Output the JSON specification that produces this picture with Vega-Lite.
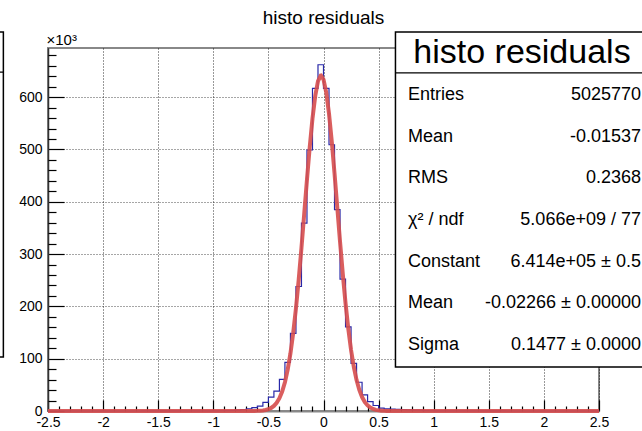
{
  "$schema": "https://vega.github.io/schema/vega-lite/v6.json",
  "width": 551,
  "height": 363,
  "autosize": {"type": "none"},
  "padding": {"left": 48, "top": 48, "right": 43, "bottom": 20},
  "background": "white",
  "title": {"text": "histo residuals", "fontSize": 19, "font": "Liberation Sans", "fontWeight": "normal", "color": "#000", "anchor": "middle", "frame": "group", "baseline": "alphabetic", "offset": -12},
  "config": {"view": {"stroke": "#888", "strokeWidth": 2}, "font": "Liberation Sans"},
  "datasets": {
    "hist": [
      {"x": -2.5, "count": 0}, {"x": -2.45, "count": 0}, {"x": -2.4, "count": 0}, {"x": -2.35, "count": 0}, {"x": -2.3, "count": 0},
      {"x": -2.25, "count": 0}, {"x": -2.2, "count": 0}, {"x": -2.15, "count": 0}, {"x": -2.1, "count": 0}, {"x": -2.05, "count": 0},
      {"x": -2.0, "count": 10}, {"x": -1.95, "count": 10}, {"x": -1.9, "count": 20}, {"x": -1.85, "count": 20}, {"x": -1.8, "count": 30},
      {"x": -1.75, "count": 30}, {"x": -1.7, "count": 40}, {"x": -1.65, "count": 50}, {"x": -1.6, "count": 60}, {"x": -1.55, "count": 70},
      {"x": -1.5, "count": 90}, {"x": -1.45, "count": 110}, {"x": -1.4, "count": 130}, {"x": -1.35, "count": 150}, {"x": -1.3, "count": 180},
      {"x": -1.25, "count": 210}, {"x": -1.2, "count": 250}, {"x": -1.15, "count": 290}, {"x": -1.1, "count": 330}, {"x": -1.05, "count": 370},
      {"x": -1.0, "count": 420}, {"x": -0.95, "count": 520}, {"x": -0.9, "count": 680}, {"x": -0.85, "count": 950}, {"x": -0.8, "count": 1800},
      {"x": -0.75, "count": 2800}, {"x": -0.7, "count": 4300}, {"x": -0.65, "count": 6500}, {"x": -0.6, "count": 9500}, {"x": -0.55, "count": 16500},
      {"x": -0.5, "count": 26500}, {"x": -0.45, "count": 38000}, {"x": -0.4, "count": 60500}, {"x": -0.35, "count": 93000}, {"x": -0.3, "count": 148500},
      {"x": -0.25, "count": 238000}, {"x": -0.2, "count": 359000}, {"x": -0.15, "count": 499000}, {"x": -0.1, "count": 617000}, {"x": -0.05, "count": 662000},
      {"x": 0.0, "count": 617000}, {"x": 0.05, "count": 509000}, {"x": 0.1, "count": 385000}, {"x": 0.15, "count": 252000}, {"x": 0.2, "count": 161000},
      {"x": 0.25, "count": 91000}, {"x": 0.3, "count": 55000}, {"x": 0.35, "count": 31000}, {"x": 0.4, "count": 18000}, {"x": 0.45, "count": 10500},
      {"x": 0.5, "count": 5500}, {"x": 0.55, "count": 4000}, {"x": 0.6, "count": 3400}, {"x": 0.65, "count": 3000}, {"x": 0.7, "count": 2600},
      {"x": 0.75, "count": 2200}, {"x": 0.8, "count": 1800}, {"x": 0.85, "count": 1500}, {"x": 0.9, "count": 600}, {"x": 0.95, "count": 450},
      {"x": 1.0, "count": 380}, {"x": 1.05, "count": 320}, {"x": 1.1, "count": 280}, {"x": 1.15, "count": 240}, {"x": 1.2, "count": 200},
      {"x": 1.25, "count": 170}, {"x": 1.3, "count": 140}, {"x": 1.35, "count": 120}, {"x": 1.4, "count": 100}, {"x": 1.45, "count": 80},
      {"x": 1.5, "count": 70}, {"x": 1.55, "count": 60}, {"x": 1.6, "count": 50}, {"x": 1.65, "count": 40}, {"x": 1.7, "count": 30},
      {"x": 1.75, "count": 25}, {"x": 1.8, "count": 20}, {"x": 1.85, "count": 15}, {"x": 1.9, "count": 10}, {"x": 1.95, "count": 10},
      {"x": 2.0, "count": 0}, {"x": 2.05, "count": 0}, {"x": 2.1, "count": 0}, {"x": 2.15, "count": 0}, {"x": 2.2, "count": 0},
      {"x": 2.25, "count": 0}, {"x": 2.3, "count": 0}, {"x": 2.35, "count": 0}, {"x": 2.4, "count": 0}, {"x": 2.45, "count": 0},
      {"x": 2.5, "count": 0}
    ],
    "fit": [
      {"x": -2.5, "y": 0}, {"x": -1.0, "y": 0}, {"x": -0.8, "y": 0.6}, {"x": -0.775, "y": 1.5}, {"x": -0.75, "y": 3.5},
      {"x": -0.725, "y": 7.9}, {"x": -0.7, "y": 17}, {"x": -0.675, "y": 37}, {"x": -0.65, "y": 78}, {"x": -0.625, "y": 157},
      {"x": -0.6, "y": 308}, {"x": -0.575, "y": 590}, {"x": -0.55, "y": 1094}, {"x": -0.525, "y": 1972}, {"x": -0.5, "y": 3457},
      {"x": -0.475, "y": 5894}, {"x": -0.45, "y": 9762}, {"x": -0.425, "y": 15697}, {"x": -0.4, "y": 24540}, {"x": -0.375, "y": 37285},
      {"x": -0.35, "y": 55027}, {"x": -0.325, "y": 78952}, {"x": -0.3, "y": 110038}, {"x": -0.275, "y": 149036}, {"x": -0.25, "y": 196185},
      {"x": -0.225, "y": 250948}, {"x": -0.2, "y": 311958}, {"x": -0.175, "y": 376816}, {"x": -0.15, "y": 442322}, {"x": -0.125, "y": 504544},
      {"x": -0.1, "y": 559224}, {"x": -0.075, "y": 602364}, {"x": -0.05, "y": 630503}, {"x": -0.025, "y": 641318}, {"x": -0.0227, "y": 641400},
      {"x": 0.0, "y": 633896}, {"x": 0.025, "y": 608862}, {"x": 0.05, "y": 568306}, {"x": 0.075, "y": 515455}, {"x": 0.1, "y": 454329},
      {"x": 0.125, "y": 389150}, {"x": 0.15, "y": 323875}, {"x": 0.175, "y": 261935}, {"x": 0.2, "y": 205902}, {"x": 0.225, "y": 157246},
      {"x": 0.25, "y": 116728}, {"x": 0.275, "y": 84160}, {"x": 0.3, "y": 58991}, {"x": 0.325, "y": 40190}, {"x": 0.35, "y": 26592},
      {"x": 0.375, "y": 17106}, {"x": 0.4, "y": 10690}, {"x": 0.425, "y": 6493}, {"x": 0.45, "y": 3831}, {"x": 0.475, "y": 2199},
      {"x": 0.5, "y": 1224}, {"x": 0.525, "y": 663}, {"x": 0.55, "y": 349}, {"x": 0.575, "y": 178}, {"x": 0.6, "y": 89},
      {"x": 0.65, "y": 20}, {"x": 0.7, "y": 4}, {"x": 0.8, "y": 0.2}, {"x": 1.0, "y": 0}, {"x": 2.5, "y": 0}
    ],
    "stats": [
      {"row": 1, "label": "Entries", "value": "5025770"},
      {"row": 2, "label": "Mean", "value": "-0.01537"},
      {"row": 3, "label": "RMS", "value": "0.2368"},
      {"row": 4, "label": "χ² / ndf", "value": "5.066e+09 / 77"},
      {"row": 5, "label": "Constant", "value": "6.414e+05 ± 0.5"},
      {"row": 6, "label": "Mean", "value": "-0.02266 ± 0.00000"},
      {"row": 7, "label": "Sigma", "value": "0.1477 ± 0.0000"}
    ],
    "pave": [{"title": "histo residuals"}]
  },
  "layer": [
    {
      "layer": [
        {
          "data": {"name": "hist"},
          "mark": {"type": "line", "interpolate": "step-after", "color": "#2828a8", "strokeWidth": 1.2},
          "encoding": {
            "x": {"field": "x", "type": "quantitative", "scale": {"domain": [-2.5, 2.5], "nice": false, "zero": false},
              "axis": {"values": [-2.5, -2, -1.5, -1, -0.5, 0, 0.5, 1, 1.5, 2, 2.5], "tickSize": -11, "tickColor": "#000", "tickWidth": 1.2,
                "domainColor": "#888", "domainWidth": 2, "grid": true, "gridColor": "#000", "gridDash": [1, 2], "gridWidth": 1, "gridOpacity": 0.8,
                "labelFontSize": 14, "labelColor": "#000", "labelPadding": 15, "labelFlush": false, "labelOverlap": false, "title": null,
                "labelExpr": "'' + datum.value"}},
            "y": {"field": "count", "type": "quantitative", "scale": {"domain": [0, 694000], "nice": false},
              "axis": {"values": [0, 100000, 200000, 300000, 400000, 500000, 600000], "tickSize": -16, "tickColor": "#000", "tickWidth": 1.2,
                "domainColor": "#333", "domainWidth": 1.5, "grid": true, "gridColor": "#000", "gridDash": [1, 2], "gridWidth": 1, "gridOpacity": 0.7,
                "labelFontSize": 14, "labelColor": "#000", "labelPadding": 22, "labelFlush": false, "labelOverlap": false,
                "labelExpr": "'' + (datum.value / 1000)",
                "title": "×10³", "titleAngle": 0, "titleAlign": "left", "titleBaseline": "alphabetic", "titleX": -2, "titleY": -4,
                "titleFontSize": 15, "titleFontWeight": "normal", "titleColor": "#000"}}
          }
        },
        {
          "data": {"name": "fit"},
          "mark": {"type": "line", "color": "#d64d4d", "strokeWidth": 4, "opacity": 0.9},
          "encoding": {
            "x": {"field": "x", "type": "quantitative", "scale": {"domain": [-2.5, 2.5], "nice": false, "zero": false},
              "axis": {"orient": "bottom", "values": [-2.4, -2.3, -2.2, -2.1, -1.9, -1.8, -1.7, -1.6, -1.4, -1.3, -1.2, -1.1, -0.9, -0.8, -0.7, -0.6, -0.4, -0.3, -0.2, -0.1, 0.1, 0.2, 0.3, 0.4, 0.6, 0.7, 0.8, 0.9, 1.1, 1.2, 1.3, 1.4, 1.6, 1.7, 1.8, 1.9, 2.1, 2.2, 2.3, 2.4],
                "tickSize": -5, "tickColor": "#000", "tickWidth": 1.2, "labels": false, "domain": false, "grid": false, "title": null}},
            "y": {"field": "y", "type": "quantitative", "scale": {"domain": [0, 694000], "nice": false},
              "axis": {"orient": "left", "values": [20000, 40000, 60000, 80000, 120000, 140000, 160000, 180000, 220000, 240000, 260000, 280000, 320000, 340000, 360000, 380000, 420000, 440000, 460000, 480000, 520000, 540000, 560000, 580000, 620000, 640000, 660000, 680000],
                "tickSize": -8, "tickColor": "#000", "tickWidth": 1.2, "labels": false, "domain": false, "grid": false, "title": null}}
          }
        }
      ],
      "resolve": {"axis": {"x": "independent", "y": "independent"}}
    },
    {
      "layer": [
        {
          "data": {"values": [{}]},
          "mark": {"type": "rect", "fill": "white", "stroke": "black", "strokeWidth": 1.5},
          "encoding": {
            "x": {"datum": 0.653, "type": "quantitative", "scale": {"domain": [-2.5, 2.5], "nice": false, "zero": false}, "axis": null},
            "x2": {"datum": 3.2},
            "y": {"datum": -0.51, "type": "quantitative", "scale": {"domain": [-0.127, 8.584], "reverse": true, "nice": false, "zero": false}, "axis": null},
            "y2": {"datum": 7.53}
          }
        },
        {
          "data": {"values": [{}]},
          "mark": {"type": "rect", "fill": "white", "stroke": "black", "strokeWidth": 1.5},
          "encoding": {
            "x": {"datum": -3.5, "type": "quantitative", "axis": null},
            "x2": {"datum": -2.905},
            "y": {"datum": -0.51, "type": "quantitative", "axis": null},
            "y2": {"datum": 7.29}
          }
        },
        {
          "data": {"values": [{}]},
          "mark": {"type": "rule", "color": "black", "strokeWidth": 1.2},
          "encoding": {
            "x": {"datum": 0.653, "type": "quantitative", "axis": null},
            "x2": {"datum": 3.2},
            "y": {"datum": 0.47, "type": "quantitative", "axis": null}
          }
        },
        {
          "data": {"values": [{}]},
          "mark": {"type": "rule", "color": "black", "strokeWidth": 1.2},
          "encoding": {
            "x": {"datum": -3.5, "type": "quantitative", "axis": null},
            "x2": {"datum": -2.905},
            "y": {"datum": 0.45, "type": "quantitative", "axis": null}
          }
        },
        {
          "data": {"name": "pave"},
          "mark": {"type": "text", "fontSize": 34, "align": "center", "baseline": "middle", "color": "#000"},
          "encoding": {
            "x": {"datum": 1.801, "type": "quantitative", "axis": null},
            "y": {"datum": 0, "type": "quantitative", "axis": null},
            "text": {"field": "title"}
          }
        },
        {
          "data": {"name": "stats"},
          "mark": {"type": "text", "fontSize": 18, "align": "left", "baseline": "middle", "color": "#000"},
          "encoding": {
            "x": {"datum": 0.767, "type": "quantitative", "axis": null},
            "y": {"field": "row", "type": "quantitative", "axis": null},
            "text": {"field": "label"}
          }
        },
        {
          "data": {"name": "stats"},
          "mark": {"type": "text", "fontSize": 18, "align": "right", "baseline": "middle", "color": "#000"},
          "encoding": {
            "x": {"datum": 2.881, "type": "quantitative", "axis": null},
            "y": {"field": "row", "type": "quantitative", "axis": null},
            "text": {"field": "value"}
          }
        }
      ]
    }
  ],
  "resolve": {"scale": {"y": "independent"}}
}
